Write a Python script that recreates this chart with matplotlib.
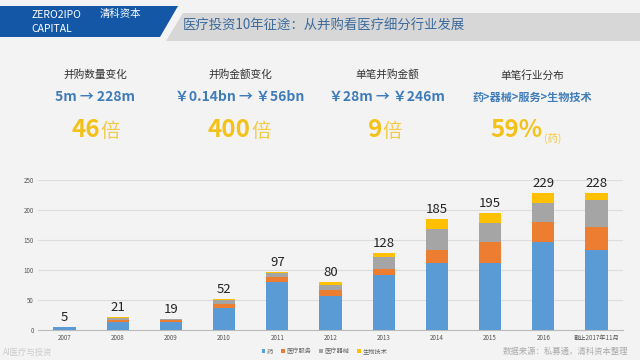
import matplotlib
matplotlib.use("Agg")
import matplotlib.pyplot as plt
from matplotlib.patches import Polygon
import numpy as np

plt.rcParams['font.family'] = ['Noto Sans CJK SC', 'DejaVu Sans']

years = ["2007", "2008", "2009", "2010", "2011", "2012", "2013", "2014", "2015", "2016", "截止2017年11月"]
drug = [5, 13, 14, 37, 80, 57, 92, 112, 111, 147, 133]
service = [0, 4, 2, 7, 9, 10, 10, 22, 36, 33, 38]
device = [0, 3, 3, 6, 6, 8, 19, 34, 32, 31, 46]
biotech = [0, 1, 0, 2, 2, 5, 7, 17, 16, 18, 11]
totals = [5, 21, 19, 52, 97, 80, 128, 185, 195, 229, 228]
series_names = ["药", "医疗服务", "医疗器械", "生物技术"]
colors = ["#5B9BD5", "#ED7D31", "#A5A5A5", "#FFC000"]

stat_titles = ["并购数量变化", "并购金额变化", "单笔并购金额", "单笔行业分布"]
stat_lines = ["5m → 228m", "￥0.14bn → ￥56bn", "￥28m → ￥246m", "药>器械>服务>生物技术"]
stat_big = ["46", "400", "9", "59%"]
stat_suffix = ["倍", "倍", "倍", "(药)"]

W, H = 640, 360
fig = plt.figure(figsize=(6.4, 3.6), dpi=100)
fig.patch.set_facecolor("#F3F3F3")

def fx(x): return x / W
def fy(y): return 1 - y / H

# header gray band
fig.patches.append(Polygon([(fx(183), fy(13)), (fx(640), fy(13)), (fx(640), fy(41)), (fx(166), fy(41))],
                           closed=True, transform=fig.transFigure, facecolor="#D7D7D7", edgecolor="none"))
# blue banner
fig.patches.append(Polygon([(0, fy(6)), (fx(178), fy(6)), (fx(160), fy(37)), (0, fy(37))],
                           closed=True, transform=fig.transFigure, facecolor="#1357A6", edgecolor="none"))
fig.text(fx(31), fy(15), "ZERO2IPO", color="white", fontsize=7.5, va="center", ha="left")
fig.text(fx(31), fy(29), "CAPITAL", color="white", fontsize=7.5, va="center", ha="left")
fig.text(fx(100), fy(14), "清科资本", color="white", fontsize=7.5, va="center", ha="left")
fig.text(fx(183), fy(26), "医疗投资10年征途：从并购看医疗细分行业发展", color="#3C6A9C", fontsize=9.6,
         va="center", ha="left")

centers = [95, 240, 387, 532]
line_sizes = [10, 10, 10, 8]
for cx, t, l, b, s, ls in zip(centers, stat_titles, stat_lines, stat_big, stat_suffix, line_sizes):
    fig.text(fx(cx), fy(75), t, color="#333333", fontsize=7.7, ha="center", va="center")
    fig.text(fx(cx), fy(97), l, color="#3F7CBA", fontsize=ls, fontweight="bold", ha="center", va="center")

big_right = [100, 251, 382, 543]
for br, b, s in zip(big_right, stat_big, stat_suffix):
    fig.text(fx(br), fy(130), b, color="#F3C21A", fontsize=17.5, fontweight="bold", ha="right", va="center")
    if s == "(药)":
        fig.text(fx(br + 1), fy(138), s, color="#F3CB45", fontsize=7.5, ha="left", va="center")
    else:
        fig.text(fx(br), fy(131), s, color="#F3CB45", fontsize=14, ha="left", va="center")

ax = fig.add_axes([fx(38), fy(330), fx(623) - fx(38), fy(180) - fy(330)])
ax.set_facecolor("#F3F3F3")
x = np.arange(len(years))
bottom = np.zeros(len(years))
for vals, name, c in zip([drug, service, device, biotech], series_names, colors):
    ax.bar(x, vals, 0.42, bottom=bottom, color=c, label=name, zorder=3)
    bottom += np.array(vals)
for xi, t in zip(x, totals):
    ax.text(xi, t + 5, str(t), ha="center", va="bottom", fontsize=9.5, color="#222222")
ax.set_ylim(0, 250)
ax.set_xlim(-0.5, len(years) - 0.5)
ax.set_yticks([0, 50, 100, 150, 200, 250])
ax.yaxis.grid(True, color="#DDDDDD", linewidth=0.8, zorder=0)
for sp in ["top", "right", "left"]:
    ax.spines[sp].set_visible(False)
ax.spines["bottom"].set_color("#BBBBBB")
ax.set_xticks(x)
ax.set_xticklabels(years)
ax.tick_params(axis="both", length=0, labelsize=4.5, labelcolor="#555555", pad=3)
ax.legend(loc="upper center", bbox_to_anchor=(0.49, -0.08), ncol=4, frameon=False,
          fontsize=4.5, handlelength=0.6, handleheight=0.6, columnspacing=1.2, handletextpad=0.3,
          labelcolor="#666666")

fig.text(fx(628), fy(351), "数据来源：私募通，清科资本整理", color="#AAAAAA", fontsize=6,
         style="italic", ha="right", va="center")
fig.text(fx(3), fy(352), "AI医疗与投资", color="#CCCCCC", fontsize=6, ha="left", va="center")

fig.savefig("out.png", dpi=100, facecolor=fig.get_facecolor())
